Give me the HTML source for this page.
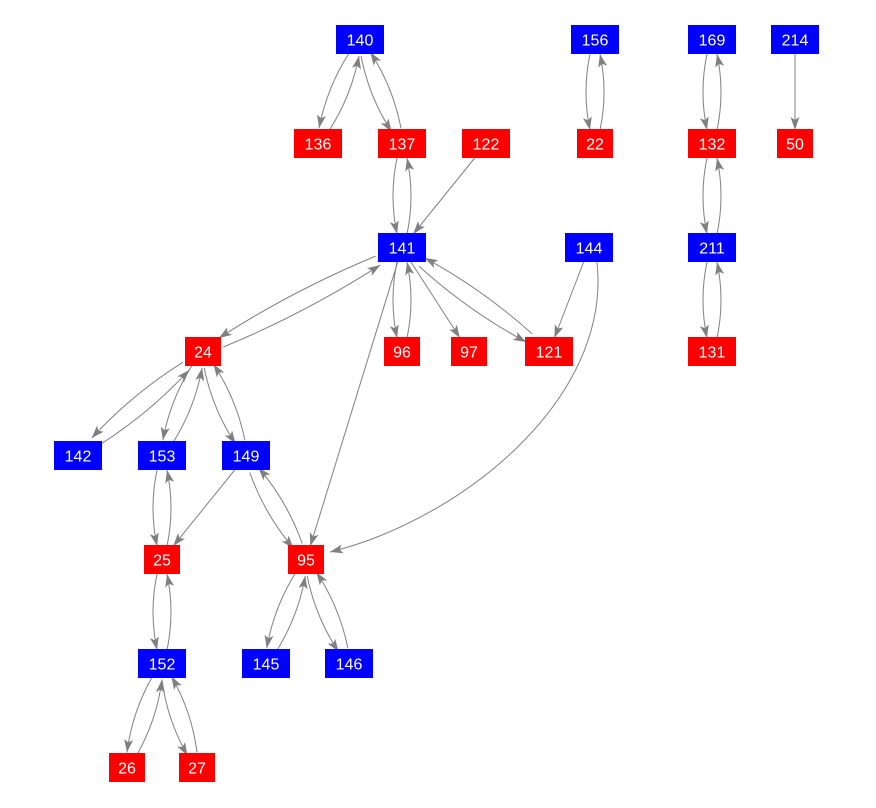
<!DOCTYPE html>
<html><head><meta charset="utf-8"><style>
html,body{margin:0;padding:0;background:#fff;}
svg{display:block}
text{font-family:"Liberation Sans",Arial,sans-serif;font-size:16px;fill:#fff;text-anchor:middle;dominant-baseline:central}
</style></head><body>
<svg id="s" width="876" height="808" viewBox="0 0 876 808">
<defs><marker id="a" viewBox="0 0 13 9" refX="13" refY="4.5" markerWidth="13" markerHeight="9" markerUnits="userSpaceOnUse" orient="auto"><path d="M0,0L13,4.5L0,9L3,4.5z" fill="#808080"/></marker></defs>
<g id="e" fill="none" stroke="#808080" stroke-width="1"></g>
<g id="n"></g>
</svg>
<script>
var N={140:[360,40,'b'],136:[318,144,'r'],137:[402,144,'r'],122:[486,144,'r'],156:[595,40,'b'],22:[595,144,'r'],169:[712,40,'b'],132:[712,144,'r'],214:[795,40,'b'],50:[795,144,'r'],141:[402,248,'b'],144:[589,248,'b'],211:[712,248,'b'],24:[203,352,'r'],96:[402,352,'r'],97:[469,352,'r'],121:[549,352,'r'],131:[712,352,'r'],142:[78,456,'b'],153:[162,456,'b'],149:[246,456,'b'],25:[162,560,'r'],95:[306,560,'r'],152:[162,664,'b'],145:[266,664,'b'],146:[349,664,'b'],26:[127,768,'r'],27:[197,768,'r']};
function W(k){return String(k).length>2?48:36}
var E=[[140,136],[136,140],[140,137],[137,140],[137,141],[141,137],[122,141],[156,22],[22,156],[169,132],[132,169],[132,211],[211,132],[211,131],[131,211],[214,50],[141,24],[24,141],[141,96],[96,141],[141,97],[141,121],[121,141],[144,121],[141,95],[24,142],[142,24],[24,153],[153,24],[24,149],[149,24],[153,25],[25,153],[149,25],[149,95],[95,149],[25,152],[152,25],[95,145],[145,95],[95,146],[146,95],[152,26],[26,152],[152,27],[27,152]];
var S={};E.forEach(function(e){S[e[0]+'-'+e[1]]=1});
var ns='http://www.w3.org/2000/svg',ge=document.getElementById('e'),gn=document.getElementById('n');
function clip(c,k,dx,dy){var hw=W(k)/2,hh=14;var t=Math.min(dx?hw/Math.abs(dx):1e9,dy?hh/Math.abs(dy):1e9);return [c[0]+dx*t,c[1]+dy*t];}
function P(d){var p=document.createElementNS(ns,'path');p.setAttribute('d',d);p.setAttribute('marker-end','url(#a)');ge.appendChild(p);}
E.forEach(function(e){var a=N[e[0]],b=N[e[1]];var dx=b[0]-a[0],dy=b[1]-a[1],L=Math.hypot(dx,dy),ux=dx/L,uy=dy/L,px=-uy,py=ux;
var bi=S[e[1]+'-'+e[0]],o=bi?5:0;
var A=[a[0]+px*o,a[1]+py*o],B=[b[0]+px*o,b[1]+py*o];
var s=clip(A,e[0],ux,uy),t=clip(B,e[1],-ux,-uy);
var m=bi?8:0;var cx=(s[0]+t[0])/2+px*m,cy=(s[1]+t[1])/2+py*m;
P('M'+s[0]+','+s[1]+'Q'+cx+','+cy+' '+t[0]+','+t[1]);});
P('M597,262C612,400 460,520 330,552');
for(var k in N){var v=N[k],w=W(k);var r=document.createElementNS(ns,'rect');r.setAttribute('x',v[0]-w/2);r.setAttribute('y',v[1]-15);r.setAttribute('width',w);r.setAttribute('height',29);r.setAttribute('fill',v[2]=='b'?'#0000ff':'#ff0000');gn.appendChild(r);
var t=document.createElementNS(ns,'text');t.setAttribute('x',v[0]);t.setAttribute('y',v[1]+1);t.textContent=k;gn.appendChild(t);}
</script>
</body></html>
